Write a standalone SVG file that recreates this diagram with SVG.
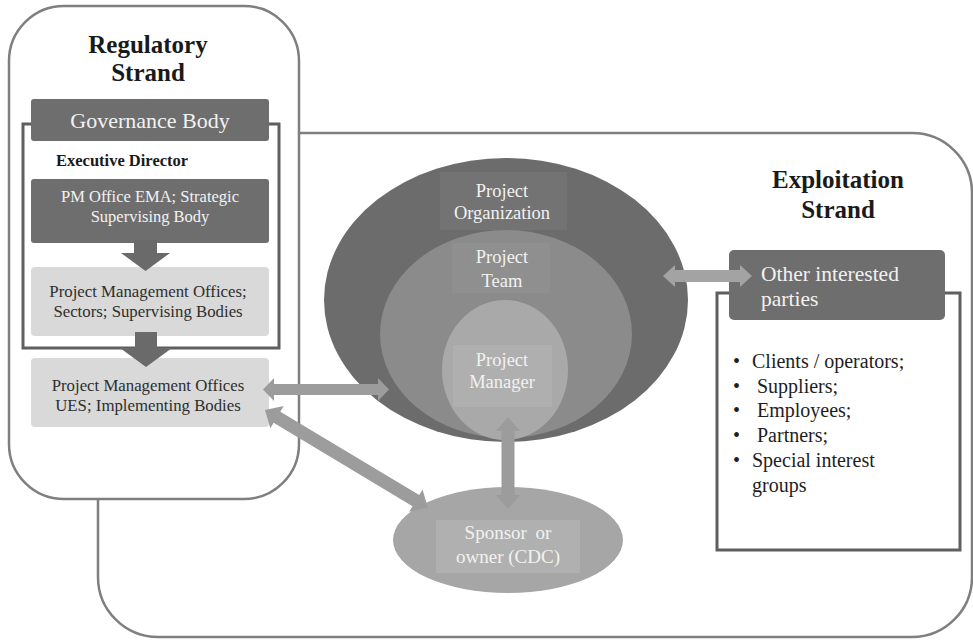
<svg xmlns="http://www.w3.org/2000/svg" width="973" height="641" viewBox="0 0 973 641">
<style>
.strand{fill:#fff;stroke:#7f7f7f;stroke-width:2.5}
.frame{fill:none;stroke:#5f5f5f;stroke-width:3}
.dark{fill:#6e6e6e}
.light{fill:#d9d9d9}
.t{font-family:"Liberation Serif","Times New Roman",serif}
.title{font-size:25px;font-weight:bold;fill:#1a1a1a;text-anchor:middle}
.w{fill:#f2f2f2;text-anchor:middle}
.k{fill:#2e2e2e;text-anchor:middle}
.b{fill:#1e1e1e;font-size:20px}
.arrD{fill:#6a6a6a}
.arrL{fill:#9c9c9c}
</style>
<g id="exploitation-strand">
<rect class="strand" x="98" y="133" width="874" height="504" rx="60"/>
</g>
<g id="regulatory-strand">
<rect class="strand" x="9" y="6" width="290" height="493" rx="55"/>
<text class="t title" x="148" y="53">Regulatory</text>
<text class="t title" x="148" y="81">Strand</text>
</g>
<rect class="frame" x="23" y="124" width="256" height="224"/>
<g id="governance-body">
<rect class="dark" x="31" y="99" width="238" height="42" rx="3"/>
<text class="t w" x="150" y="128" font-size="22">Governance Body</text>
</g>
<g id="executive-director">
<text class="t" x="56" y="166" font-size="16.5" font-weight="bold" fill="#1a1a1a">Executive Director</text>
</g>
<g id="pm-office-ema">
<rect class="dark" x="31" y="179" width="238" height="64" rx="3"/>
<text class="t w" x="150" y="202" font-size="16.5">PM Office EMA; Strategic</text>
<text class="t w" x="150" y="222" font-size="16.5">Supervising Body</text>
</g>
<g id="pmo-sectors">
<rect class="light" x="31" y="267" width="238" height="69" rx="4"/>
<text class="t k" x="148" y="297" font-size="16.8">Project Management Offices;</text>
<text class="t k" x="148" y="317" font-size="16.8">Sectors; Supervising Bodies</text>
</g>
<g id="pmo-ues">
<rect class="light" x="31" y="358" width="238" height="69" rx="4"/>
<text class="t k" x="148" y="391" font-size="16.8">Project Management Offices</text>
<text class="t k" x="148" y="411" font-size="16.8">UES; Implementing Bodies</text>
</g>
<g id="project-organization">
<ellipse cx="506" cy="300" rx="182" ry="142" fill="#6c6c6c"/>
<rect x="440" y="172" width="127" height="58" fill="#737373"/>
<text class="t w" x="502" y="197" font-size="18.5">Project</text>
<text class="t w" x="502" y="219" font-size="18.5">Organization</text>
</g>
<g id="project-team">
<ellipse cx="506" cy="334" rx="126" ry="104" fill="#8b8b8b"/>
<rect x="452" y="243" width="98" height="50" fill="#8f8f8f"/>
<text class="t w" x="502" y="263" font-size="18.5">Project</text>
<text class="t w" x="502" y="287" font-size="18.5">Team</text>
</g>
<g id="project-manager">
<ellipse cx="505" cy="370" rx="63" ry="70" fill="#a9a9a9"/>
<rect x="453" y="345" width="99" height="62" fill="#afafaf"/>
<text class="t w" x="502" y="366" font-size="18.5">Project</text>
<text class="t w" x="502" y="388" font-size="18.5">Manager</text>
</g>
<g id="sponsor-owner">
<ellipse cx="508" cy="540" rx="115" ry="53" fill="#a6a6a6"/>
<rect x="436" y="520" width="144" height="53" fill="#b0b0b0"/>
<text class="t w" x="508" y="539" font-size="19" word-spacing="4">Sponsor or</text>
<text class="t w" x="508" y="563" font-size="19">owner (CDC)</text>
</g>
<rect class="frame" x="717" y="293" width="243" height="257"/>
<g id="other-parties">
<rect class="dark" x="729" y="250" width="216" height="70" rx="5"/>
<text class="t" x="761" y="281" font-size="21.5" fill="#f2f2f2">Other interested</text>
<text class="t" x="761" y="306" font-size="21.5" fill="#f2f2f2">parties</text>
</g>
<g id="exploitation-title">
<text class="t title" x="838" y="188">Exploitation</text>
<text class="t title" x="838" y="218">Strand</text>
</g>
<g id="stakeholder-list" class="t b">
<text x="733" y="368">•</text><text x="752" y="368">Clients / operators;</text>
<text x="733" y="393">•</text><text x="757" y="393">Suppliers;</text>
<text x="733" y="417">•</text><text x="757" y="417">Employees;</text>
<text x="733" y="442">•</text><text x="757" y="442">Partners;</text>
<text x="733" y="467">•</text><text x="752" y="467">Special interest</text>
<text x="752" y="492">groups</text>
</g>
<g id="connectors">
<polygon class="arrD" points="134,240 157,240 157,253 170,253 145.5,271 121,253 134,253"/>
<polygon class="arrD" points="135,332 157,332 157,348 172,348 146,367 120,348 135,348"/>
<polygon class="arrL" points="263,389.5 274,378 274,384 378,384 378,378 389,389.5 378,401 378,395 274,395 274,401"/>
<polygon class="arrL" transform="translate(265,410) rotate(31)" points="0,0 14,-13 14,-6.5 176,-6.5 176,-13 190,0 176,13 176,6.5 14,6.5 14,13"/>
<polygon class="arrL" points="508,417 520,431 514.5,431 514.5,495 520,495 508,509 496,495 501.5,495 501.5,431 496,431"/>
<polygon fill="#a3a3a3" points="663,276 675,265 675,270 740,270 740,265 752,276 740,287 740,282 675,282 675,287"/>
</g>
</svg>
